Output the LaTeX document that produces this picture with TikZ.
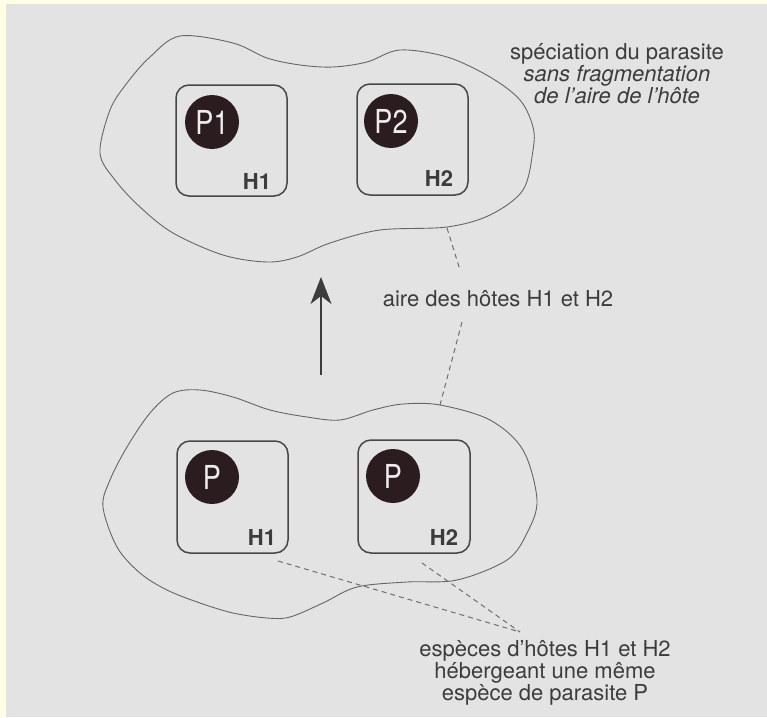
\documentclass[tikz,border=0pt]{standalone}
\usepackage{fontspec}
\setmainfont{TeX Gyre Heros}
\usetikzlibrary{arrows.meta}
\definecolor{paperyellow}{HTML}{FFFFE6}
\definecolor{papergray}{HTML}{E3E3E3}
\definecolor{ink}{HTML}{3C3C3C}
\definecolor{outline}{HTML}{666666}
\definecolor{boxline}{HTML}{474747}
\definecolor{dotfill}{HTML}{2B1D1F}
\definecolor{leader}{HTML}{6E6E6E}
\tikzset{
  txt/.style={text=ink, font=\fontsize{22}{20.5}\selectfont, align=center, inner sep=0pt},
  hostbox/.style={draw=boxline, line width=1.5pt, rounded corners=13pt},
  hostlbl/.style={text=ink, font=\fontsize{22}{22}\selectfont\bfseries, inner sep=0pt},
  para/.style={circle, fill=dotfill, minimum size=54pt, inner sep=0pt, text=white!93!black,
               font=\fontsize{33}{33}\selectfont},
  blob/.style={draw=outline, line width=0.9pt},
  leaderline/.style={draw=leader, line width=1pt, dash pattern=on 5pt off 4pt},
}
\newcommand{\narrow}[1]{\scalebox{0.82}[1]{#1}}
\begin{document}
\begin{tikzpicture}[x=1pt, y=-1pt]
  % page
  \useasboundingbox (0,0) rectangle (767,717);
  \fill[paperyellow] (0,0) rectangle (767,717);
  \fill[papergray] (6,4) rectangle (767,717);

  % host range after speciation
  \draw[blob] plot[smooth cycle, tension=0.55] coordinates {
    (100,153) (110,110) (127,83) (150,57) (180,36) (233,43) (267,58) (300,65)
    (333,67) (367,62) (400,50) (447,57) (490,77) (520,100) (533,127) (533,150)
    (523,190) (490,215) (447,227) (380,230) (330,243) (297,257) (267,262)
    (223,255) (173,233) (140,207) (115,180)};

  % host range before speciation
  \draw[blob] plot[smooth cycle, tension=0.55] coordinates {
    (103,507) (110,480) (127,447) (150,413) (173,393) (200,390) (233,397)
    (270,410) (307,417) (340,420) (373,410) (403,404) (440,405) (490,420)
    (523,450) (537,500) (527,533) (507,560) (457,580) (407,582) (357,587)
    (323,603) (290,617) (267,618) (233,613) (200,603) (167,590) (140,573)
    (117,547)};

  % hosts and parasites, upper stage
  \draw[hostbox] (176,85) rectangle (287,196);
  \draw[hostbox] (357,84) rectangle (468,195);
  \node[para] (p1) at (212,122) {\narrow{P1}};
  \node[para] (p2) at (391,121) {\narrow{P2}};
  \node[hostlbl] (th1) at (257,181) {H1};
  \node[hostlbl] (th2) at (439,178) {H2};

  % hosts and parasites, lower stage
  \draw[hostbox] (177,441) rectangle (288,553);
  \draw[hostbox] (358,440) rectangle (470,553);
  \node[para] (bp1) at (212,477) {\narrow{P}};
  \node[para] (bp2) at (393,476) {\narrow{P}};
  \node[hostlbl] (bh1) at (262,537) {H1};
  \node[hostlbl] (bh2) at (444,537) {H2};

  % evolution arrow
  \coordinate (arrfrom) at (321,375);
  \coordinate (arrto) at (321,277);
  \draw[draw=ink, line width=1.3pt,
        -{Stealth[length=27pt, width=21pt, inset=8pt]}] (arrfrom) -- (arrto);

  % captions
  \node[txt] (spec) at (617,74) {spéciation du parasite\\
    \itshape sans fragmentation\\ \itshape de l'aire de l'hôte};
  \node[txt, anchor=base] (aire) at (498,306) {aire des hôtes H1 et H2};
  \node[txt] (esp) at (545,673) {espèces d'hôtes H1 et H2\\
    hébergeant une même\\ espèce de parasite P};

  % leader lines
  \coordinate (topedge) at (447,228);
  \coordinate (aireup) at (460,270);
  \coordinate (airedn) at (462,322);
  \coordinate (botedge) at (440,405);
  \draw[leaderline] (topedge) -- (aireup);
  \draw[leaderline] (airedn) -- (botedge);

  \coordinate (h1tip) at (278,561);
  \coordinate (h2tip) at (422,563);
  \coordinate (meet) at (520,632);
  \draw[leaderline] (h1tip) -- (meet);
  \draw[leaderline] (h2tip) -- (meet);
\end{tikzpicture}
\end{document}
